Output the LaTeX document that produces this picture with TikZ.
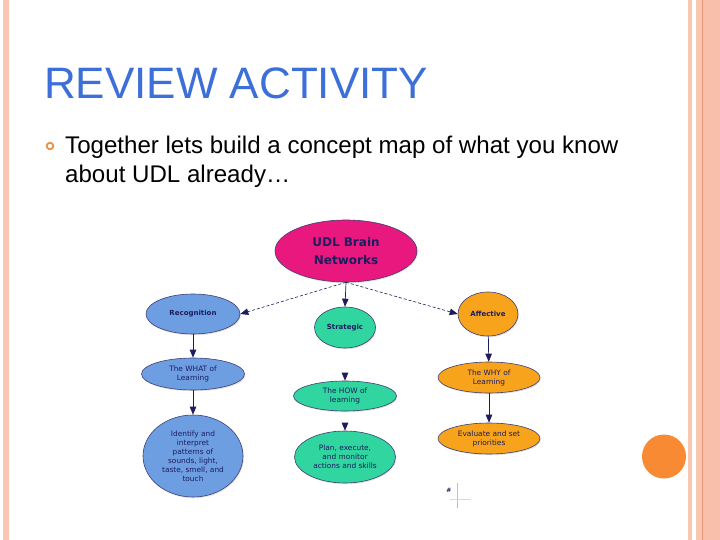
\documentclass[tikz,border=0pt]{standalone}
\usepackage{fontspec}
\setmainfont{Liberation Sans}
\newfontfamily\mapfont{DejaVu Sans}
\usetikzlibrary{shapes.geometric,arrows.meta,shadows}
\definecolor{titleblue}{HTML}{3C6FD8}
\definecolor{salmon}{HTML}{F9C6B2}
\definecolor{salmondk}{HTML}{E8967A}
\definecolor{salmonmid}{HTML}{F8BFAA}
\definecolor{dotorange}{HTML}{F98A34}
\definecolor{bulorange}{HTML}{E8934A}
\definecolor{navy}{HTML}{1C1C5E}
\definecolor{mpink}{HTML}{E8187E}
\definecolor{mblue}{HTML}{6E9EE2}
\definecolor{mgreen}{HTML}{30D5A0}
\definecolor{morange}{HTML}{F7A41C}
\tikzset{
  concept/.style={ellipse, draw=navy!85, line width=0.6pt, inner sep=0pt, align=center,
    text=navy, font=\mapfont\fontsize{7.4}{9}\selectfont,
    drop shadow={opacity=0.25, shadow xshift=0.8pt, shadow yshift=-1.2pt}},
  hub/.style={concept, fill=mpink, font=\mapfont\bfseries\fontsize{12}{17.5}\selectfont},
  blu/.style={concept, fill=mblue},
  grn/.style={concept, fill=mgreen},
  org/.style={concept, fill=morange},
  keyfont/.style={font=\mapfont\bfseries\fontsize{7}{9}\selectfont},
  arr/.style={draw=navy, line width=0.7pt, -{Triangle[width=6.5pt,length=8pt]}},
  darr/.style={arr, dash pattern=on 3pt off 2pt, line width=0.6pt},
}
\begin{document}
\begin{tikzpicture}[x=1pt,y=-1pt]
\useasboundingbox (0,0) rectangle (720,540);
\fill[white] (0,0) rectangle (720,540);
% borders
\fill[salmon] (3,0) rectangle (9,540);
\fill[salmon] (688,0) rectangle (692,540);
\fill[salmon] (696,0) rectangle (720,540);
\fill[salmonmid] (703,0) rectangle (720,540);
\draw[salmondk, line width=1pt] (702,0) -- (702,540);
\fill[dotorange] (664,456.5) circle (22);
% title and bullet
\node[anchor=base west, inner sep=0, text=titleblue, font=\fontsize{44}{50}\selectfont] (title) at (44,99) {REVIEW ACTIVITY};
\draw[bulorange, line width=1.8pt] (50,146) circle (3.3);
\node[anchor=base west, inner sep=0, font=\fontsize{24.1}{28}\selectfont] (body) at (65,154) {Together lets build a concept map of what you know};
\node[anchor=base west, inner sep=0, font=\fontsize{24.1}{28}\selectfont] (body2) at (65,183) {about UDL already\ldots};
% concept map
\node[hub, minimum width=142pt, minimum height=62pt] (udl) at (346,251) {UDL Brain\\Networks};
\node[blu, keyfont, minimum width=94pt, minimum height=40pt] (rec) at (193,314) {Recognition};
\node[grn, keyfont, minimum width=61pt, minimum height=41pt] (str) at (345,327.5) {Strategic};
\node[org, keyfont, minimum width=60pt, minimum height=44pt] (aff) at (488,314) {Affective};
\node[blu, minimum width=103pt, minimum height=32pt] (what) at (193,374) {The WHAT of\\Learning};
\node[blu, minimum width=100pt, minimum height=82pt] (ident) at (193,456) {Identify and\\interpret\\patterns of\\sounds, light,\\taste, smell, and\\touch};
\node[grn, minimum width=103pt, minimum height=30pt] (how) at (345,396) {The HOW of\\learning};
\node[grn, minimum width=101pt, minimum height=52pt] (plan) at (345,457) {Plan, execute,\\and monitor\\actions and skills};
\node[org, minimum width=102pt, minimum height=31pt] (why) at (489,377.5) {The WHY of\\Learning};
\node[org, minimum width=102pt, minimum height=31pt] (eval) at (489,438.5) {Evaluate and set\\priorities};
% connectors
\draw[darr] (udl.south) -- (rec.east);
\draw[arr] (udl.south) -- (str.north);
\draw[darr] (udl.south) -- (aff.west);
\draw[arr] (rec) -- (what);
\draw[arr] (what) -- (ident);
\draw[arr] (aff) -- (why);
\draw[arr] (why) -- (eval);
\draw[arr, shorten <=25.5pt] (str) -- (how);
\draw[arr, shorten <=12pt] (how) -- (plan);
% small marker
\coordinate (mk1) at (457,483);
\coordinate (mk2) at (457,508);
\coordinate (mk3) at (450,499);
\coordinate (mk4) at (471,499);
\draw[black!25, line width=0.4pt] (mk1) -- (mk2);
\draw[black!15, line width=0.4pt] (mk3) -- (mk4);
\node[text=navy, inner sep=0, font=\mapfont\bfseries\fontsize{6}{6}\selectfont] (mk) at (449,490) {\#};
\end{tikzpicture}
\end{document}
